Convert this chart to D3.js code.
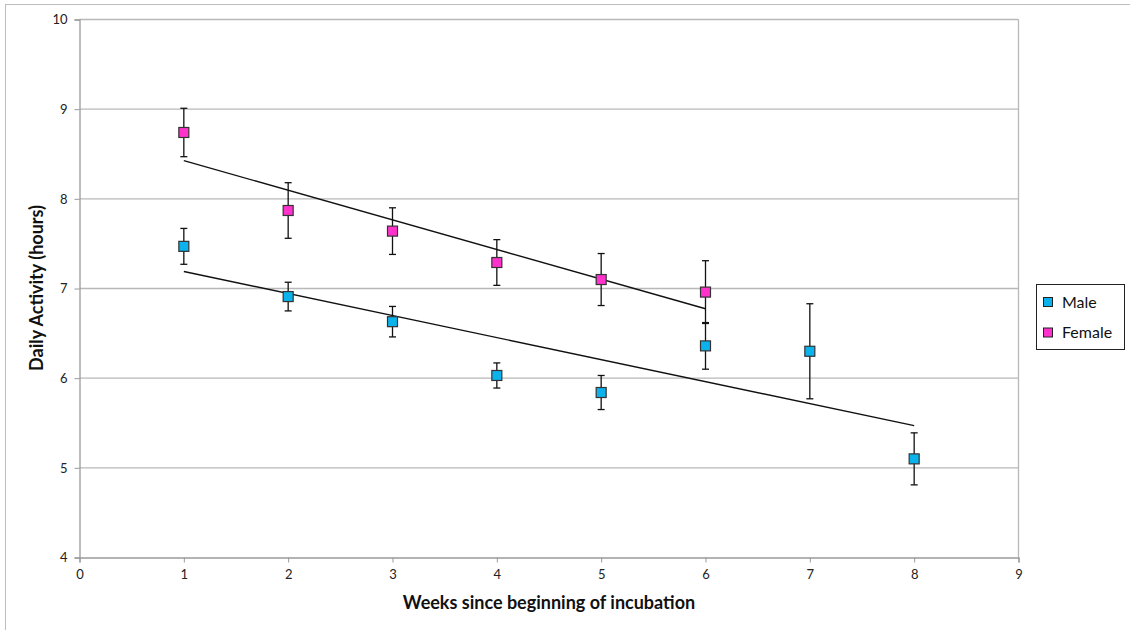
<!DOCTYPE html>
<html>
<head>
<meta charset="utf-8">
<script src="https://cdn.jsdelivr.net/npm/d3@7"></script>
<style>
  body { margin: 0; background: #fff; }
  svg { display: block; font-family: Lato, "Open Sans", sans-serif; }
</style>
</head>
<body>
<div id="chart"></div>
<script>
// values
const weeks = [1, 2, 3, 4, 5, 6, 7, 8]
const maleValues = [7.47, 6.91, 6.63, 6.03, 5.84, 6.36, 6.30, 5.10]
const maleErrors = [0.20, 0.16, 0.17, 0.14, 0.19, 0.26, 0.53, 0.29]
const femaleWeeks = [1, 2, 3, 4, 5, 6]
const femaleValues = [8.74, 7.87, 7.64, 7.29, 7.10, 6.96]
const femaleErrors = [0.27, 0.31, 0.26, 0.255, 0.29, 0.35]
const xTicks = [0, 1, 2, 3, 4, 5, 6, 7, 8, 9]
const yTicks = [4, 5, 6, 7, 8, 9, 10]

const series = [
    { name: "Male", color: "#0bb2ec", xs: weeks, ys: maleValues, errs: maleErrors },
    { name: "Female", color: "#ff33cc", xs: femaleWeeks, ys: femaleValues, errs: femaleErrors }
]

const width = 1130, height = 630
const svg = d3.select("#chart").append("svg")
    .attr("width", width)
    .attr("height", height)

// outer chart border (runs off the right and bottom)
svg.append("rect")
    .attr("x", 5.5).attr("y", 4.5)
    .attr("width", 1130).attr("height", 640)
    .attr("fill", "none")
    .attr("stroke", "#bdbdbd")

const x = d3.scaleLinear().domain([0, 9]).range([79.5, 1018.5])
const y = d3.scaleLinear().domain([4, 10]).range([557.5, 19.5])

// horizontal gridlines
svg.append("g").selectAll("line")
    .data(yTicks.filter(t => t > 4))
    .join("line")
    .attr("x1", x(0)).attr("x2", x(9))
    .attr("y1", d => y(d)).attr("y2", d => y(d))
    .attr("stroke", "#b8b8b8")
    .attr("stroke-width", 1.3)

// right border of plot area
svg.append("line")
    .attr("x1", x(9)).attr("x2", x(9))
    .attr("y1", y(10)).attr("y2", y(4))
    .attr("stroke", "#b8b8b8").attr("stroke-width", 1.3)

const yAxis = svg.append("g")
    .attr("transform", `translate(${x(0)},0)`)
    .call(d3.axisLeft(y).tickValues(yTicks).tickFormat(d3.format("d")).tickSize(5).tickPadding(7))
const xAxis = svg.append("g")
    .attr("transform", `translate(0,${y(4)})`)
    .call(d3.axisBottom(x).tickValues(xTicks).tickFormat(d3.format("d")).tickSize(5).tickPadding(7))

for (const ax of [yAxis, xAxis]) {
    ax.selectAll(".domain").attr("stroke", "#9a9a9a").attr("stroke-width", 1.3)
    ax.selectAll(".tick line").attr("stroke", "#9a9a9a")
    ax.selectAll("text")
        .attr("fill", "#222")
        .style("font-size", "13px")
        .style("font-family", "Lato, sans-serif")
}

// least squares trendlines like Excel
function trend(xs, ys) {
    const mx = d3.mean(xs), my = d3.mean(ys)
    let num = 0, den = 0
    xs.forEach((v, i) => { num += (v - mx) * (ys[i] - my); den += (v - mx) * (v - mx) })
    const slope = num / den
    const x0 = d3.min(xs), x1 = d3.max(xs)
    return [[x0, my + slope * (x0 - mx)], [x1, my + slope * (x1 - mx)]]
}

series.forEach(s => {
    const pts = trend(s.xs, s.ys)
    svg.append("line")
        .attr("x1", x(pts[0][0])).attr("y1", y(pts[0][1]))
        .attr("x2", x(pts[1][0])).attr("y2", y(pts[1][1]))
        .attr("stroke", "#111")
        .attr("stroke-width", 1.4)
})

// error bars then markers
series.forEach(s => {
    const g = svg.append("g")
    const rows = s.xs.map((w, i) => ({ w: w, v: s.ys[i], e: s.errs[i] }))
    g.selectAll("line.bar")
        .data(rows).join("line")
        .attr("x1", d => x(d.w)).attr("x2", d => x(d.w))
        .attr("y1", d => y(d.v + d.e)).attr("y2", d => y(d.v - d.e))
        .attr("stroke", "#111").attr("stroke-width", 1.3)
    ;["top", "bottom"].forEach(side => {
        g.selectAll("line." + side)
            .data(rows).join("line")
            .attr("x1", d => x(d.w) - 3.5).attr("x2", d => x(d.w) + 3.5)
            .attr("y1", d => y(side === "top" ? d.v + d.e : d.v - d.e))
            .attr("y2", d => y(side === "top" ? d.v + d.e : d.v - d.e))
            .attr("stroke", "#111").attr("stroke-width", 1.3)
    })
    g.selectAll("rect")
        .data(rows).join("rect")
        .attr("x", d => x(d.w) - 5).attr("y", d => y(d.v) - 5)
        .attr("width", 10).attr("height", 10)
        .attr("fill", s.color)
        .attr("stroke", "#333")
        .attr("stroke-width", 1.2)
})

// axis titles
svg.append("text")
    .attr("x", 549).attr("y", 609)
    .attr("text-anchor", "middle")
    .style("font-size", "18px").style("font-weight", "bold")
    .attr("fill", "#111")
    .text("Weeks since beginning of incubation")

svg.append("text")
    .attr("transform", "translate(43,288) rotate(-90)")
    .attr("text-anchor", "middle")
    .style("font-size", "18px").style("font-weight", "bold")
    .attr("fill", "#111")
    .text("Daily Activity (hours)")

// legend
const legend = svg.append("g")
legend.append("rect")
    .attr("x", 1036.5).attr("y", 284.5)
    .attr("width", 88).attr("height", 65)
    .attr("fill", "#fff").attr("stroke", "#222")
series.forEach((s, i) => {
    const ly = 302 + i * 30.5
    legend.append("rect")
        .attr("x", 1043.5).attr("y", ly - 4.5)
        .attr("width", 9).attr("height", 9)
        .attr("fill", s.color).attr("stroke", "#222")
    legend.append("text")
        .attr("x", 1062).attr("y", ly + 5.5)
        .style("font-size", "16px")
        .attr("fill", "#111")
        .text(s.name)
})
</script>
</body>
</html>
